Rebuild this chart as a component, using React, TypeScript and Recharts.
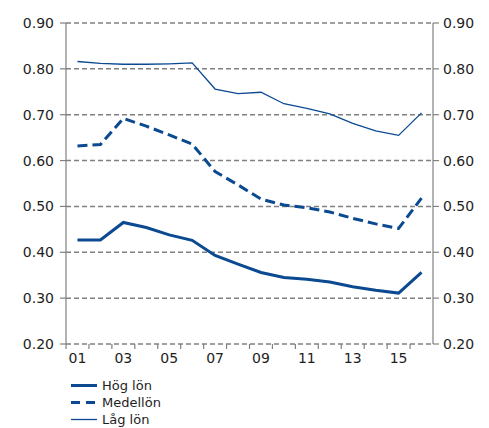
import React from 'react';
import { LineChart, Line, XAxis, YAxis, CartesianGrid, Legend } from 'recharts';

const years = ['01', '02', '03', '04', '05', '06', '07', '08', '09', '10', '11', '12', '13', '14', '15', '16'];
const hogLon = [0.427, 0.427, 0.465, 0.454, 0.438, 0.426, 0.393, 0.374, 0.356, 0.345, 0.341, 0.335, 0.325, 0.317, 0.311, 0.356];
const medelLon = [0.632, 0.635, 0.692, 0.675, 0.656, 0.636, 0.576, 0.547, 0.516, 0.503, 0.497, 0.488, 0.474, 0.462, 0.452, 0.518];
const lagLon = [0.816, 0.812, 0.81, 0.81, 0.811, 0.813, 0.756, 0.746, 0.749, 0.724, 0.714, 0.702, 0.681, 0.665, 0.655, 0.704];
const yTicks = [0.2, 0.3, 0.4, 0.5, 0.6, 0.7, 0.8, 0.9];

const data = years.map((year, i) => ({
  year,
  hog: hogLon[i],
  medel: medelLon[i],
  lag: lagLon[i],
}));

const W = 489;
const H = 428;
const LEFT_W = 66;
const RIGHT_W = 56;
const BAND = (W - LEFT_W - RIGHT_W) / years.length;
const BLUE = '#0b4a91';
const GREY = '#808080';
const FONT = '"DejaVu Sans", Verdana, sans-serif';
const TEXT = '#1e1e1e';
const DOMAIN: [number, number] = [0.2, 0.9];

const fmt = (v: number) => v.toFixed(2);

// tick marks sit on the band edges, labels on every other band centre
const XTick = (props: any) => {
  const { x, y, payload, index } = props;
  const axisY = y - 8;
  const edge = x - BAND / 2;
  return (
    <g>
      <line x1={edge} x2={edge} y1={axisY} y2={axisY + 5} stroke={GREY} strokeWidth={1.2} />
      {index % 2 === 0 && (
        <text x={x} y={axisY + 9} dy="0.71em" textAnchor="middle" fontSize={14} fontFamily={FONT} fill={TEXT}>
          {payload.value}
        </text>
      )}
    </g>
  );
};

const legendItems = [
  { label: 'Hög lön', width: 3, dash: undefined },
  { label: 'Medellön', width: 3, dash: '9 6' },
  { label: 'Låg lön', width: 1.3, dash: undefined },
];

const LegendContent = () => (
  <div style={{ fontFamily: FONT, fontSize: 13, color: TEXT }}>
    {legendItems.map((item) => (
      <div key={item.label} style={{ display: 'flex', alignItems: 'center', height: 17, paddingLeft: 71 }}>
        <svg width={26} height={17} style={{ marginRight: 5 }}>
          <line x1={0} x2={26} y1={8.5} y2={8.5} stroke={BLUE} strokeWidth={item.width} strokeDasharray={item.dash} />
        </svg>
        <span>{item.label}</span>
      </div>
    ))}
  </div>
);

const axisLine = { stroke: GREY, strokeWidth: 1.2 };
const tickStyle = { fontSize: 14, fontFamily: FONT, fill: TEXT };

export default function App() {
  return (
    <div style={{ position: 'absolute', left: 0, top: 0, width: W, height: H, background: '#fff' }}>
      <LineChart width={W} height={H} data={data} margin={{ top: 23, right: 0, bottom: 0, left: 0 }}>
        <CartesianGrid yAxisId="left" vertical={false} stroke={GREY} strokeWidth={1.5} strokeDasharray="5 3" />
        <XAxis
          dataKey="year"
          scale="band"
          interval={0}
          height={30}
          axisLine={false}
          tickLine={false}
          tickSize={6}
          tickMargin={2}
          tick={<XTick />}
        />
        <YAxis
          yAxisId="left"
          width={LEFT_W}
          domain={DOMAIN}
          ticks={yTicks}
          tickFormatter={fmt}
          axisLine={axisLine}
          tickLine={axisLine}
          tickSize={6}
          tickMargin={6}
          tick={tickStyle}
        />
        <YAxis
          yAxisId="right"
          orientation="right"
          width={RIGHT_W}
          domain={DOMAIN}
          ticks={yTicks}
          tickFormatter={fmt}
          axisLine={axisLine}
          tickLine={axisLine}
          tickSize={6}
          tickMargin={4}
          tick={tickStyle}
        />
        <Legend
          layout="vertical"
          verticalAlign="bottom"
          align="center"
          height={54}
          wrapperStyle={{ left: 0, top: 377, width: 250 }}
          content={<LegendContent />}
        />
        <Line yAxisId="left" dataKey="hog" name="Hög lön" stroke={BLUE} strokeWidth={3} dot={false} isAnimationActive={false} />
        <Line yAxisId="left" dataKey="medel" name="Medellön" stroke={BLUE} strokeWidth={3} strokeDasharray="10 5" dot={false} isAnimationActive={false} />
        <Line yAxisId="right" dataKey="lag" name="Låg lön" stroke={BLUE} strokeWidth={1.3} dot={false} isAnimationActive={false} />
      </LineChart>
    </div>
  );
}
